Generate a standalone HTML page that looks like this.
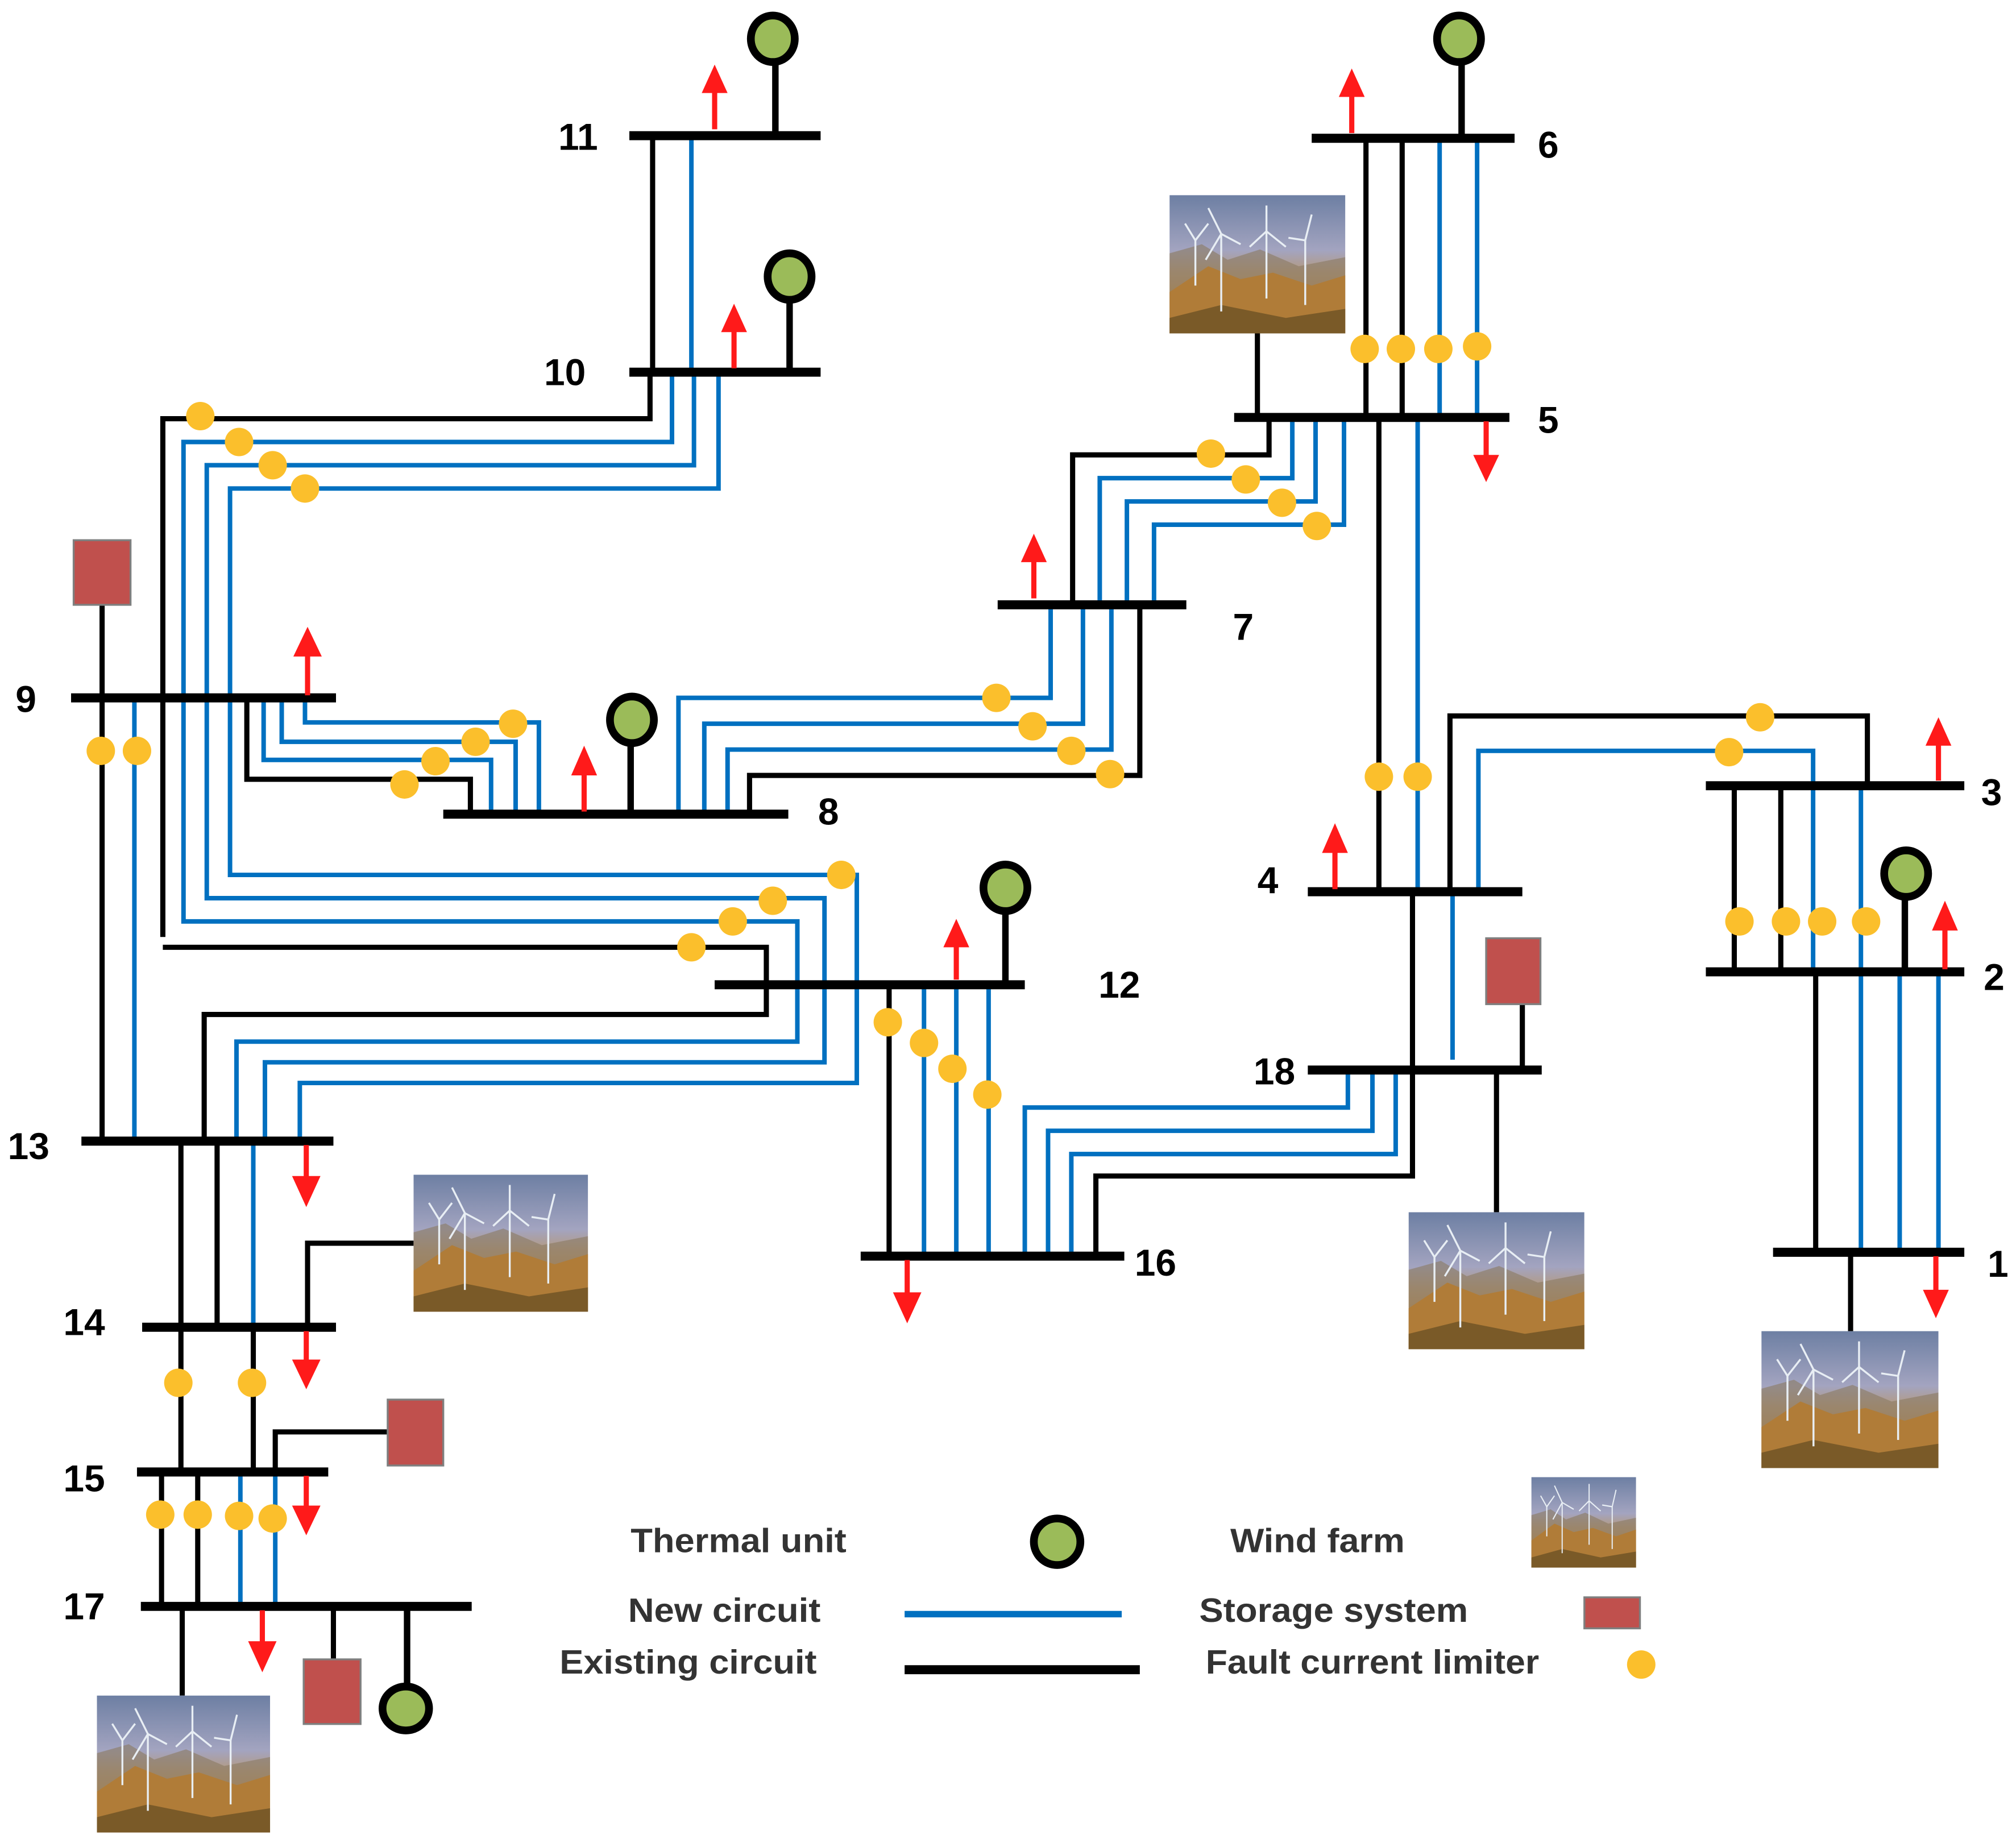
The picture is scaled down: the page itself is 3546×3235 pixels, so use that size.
<!DOCTYPE html>
<html><head><meta charset="utf-8">
<style>html,body{margin:0;padding:0;background:#fff}svg{display:block}</style>
</head><body>
<svg width="3546" height="3235" viewBox="0 0 1560 1423" preserveAspectRatio="none" xmlns="http://www.w3.org/2000/svg">
<defs>
<linearGradient id="sky" x1="0" y1="0" x2="0" y2="1">
<stop offset="0" stop-color="#6d7fa3"/><stop offset="0.4" stop-color="#a3a4c0"/><stop offset="0.55" stop-color="#b49a80"/><stop offset="0.8" stop-color="#c08a40"/><stop offset="1" stop-color="#9a6a30"/>
</linearGradient>
<symbol id="wf" viewBox="0 0 136 107" preserveAspectRatio="none">
<rect width="136" height="107" fill="url(#sky)"/>
<path d="M0 45 L25 38 L45 50 L70 42 L100 55 L136 48 L136 107 L0 107Z" fill="#8a7a60" opacity="0.6"/>
<path d="M0 75 L30 55 L55 65 L80 60 L110 70 L136 62 L136 107 L0 107Z" fill="#b07c38"/>
<path d="M0 95 L40 85 L90 95 L136 88 L136 107 L0 107Z" fill="#7a5a28"/>
<g stroke="#e8eef4" stroke-width="1.5">
<line x1="40" y1="30" x2="40" y2="90"/><line x1="40" y1="30" x2="30" y2="10"/><line x1="40" y1="30" x2="55" y2="38"/><line x1="40" y1="30" x2="28" y2="50"/>
<line x1="75" y1="28" x2="75" y2="80"/><line x1="75" y1="28" x2="75" y2="8"/><line x1="75" y1="28" x2="90" y2="40"/><line x1="75" y1="28" x2="62" y2="40"/>
<line x1="105" y1="35" x2="105" y2="85"/><line x1="105" y1="35" x2="110" y2="15"/><line x1="105" y1="35" x2="92" y2="33"/>
<line x1="20" y1="35" x2="20" y2="70"/><line x1="20" y1="35" x2="12" y2="22"/><line x1="20" y1="35" x2="30" y2="22"/>
</g>
</symbol>
</defs>

<!-- wind farms -->
<use href="#wf" x="905" y="151" width="136" height="107"/>
<use href="#wf" x="320" y="909" width="135" height="106"/>
<use href="#wf" x="1090" y="938" width="136" height="106"/>
<use href="#wf" x="1363" y="1030" width="137" height="106"/>
<use href="#wf" x="75" y="1312" width="134" height="106"/>
<use href="#wf" x="1185" y="1143" width="81" height="70"/>

<g fill="none" stroke-linejoin="miter" stroke-linecap="butt">
<!-- black existing circuits -->
<g stroke="#000" stroke-width="4">
<line x1="505" y1="105" x2="505" y2="288"/>
<polyline points="503,288 503,324 126,324 126,725"/>
<polyline points="126,733 593,733 593,785 158,785 158,883"/>
<line x1="79" y1="468" x2="79" y2="883"/>
<polyline points="191,540 191,603 364,603 364,630"/>
<polyline points="580,630 580,600 882,600 882,468"/>
<polyline points="830,468 830,352 982,352 982,323"/>
<line x1="1057" y1="107" x2="1057" y2="323"/>
<line x1="1085" y1="107" x2="1085" y2="323"/>
<line x1="973" y1="258" x2="973" y2="323"/>
<line x1="1067" y1="323" x2="1067" y2="690"/>
<polyline points="1122,690 1122,554 1445,554 1445,608"/>
<polyline points="1093,690 1093,910 848,910 848,972"/>
<line x1="1342" y1="608" x2="1342" y2="752"/>
<line x1="1378" y1="608" x2="1378" y2="752"/>
<line x1="1405" y1="752" x2="1405" y2="969"/>
<line x1="1432" y1="969" x2="1432" y2="1030"/>
<line x1="1178" y1="777" x2="1178" y2="828"/>
<line x1="1158" y1="828" x2="1158" y2="938"/>
<line x1="688" y1="762" x2="688" y2="972"/>
<line x1="140" y1="883" x2="140" y2="1139"/>
<line x1="168" y1="883" x2="168" y2="1027"/>
<line x1="196" y1="1027" x2="196" y2="1139"/>
<polyline points="238,1027 238,962 320,962"/>
<polyline points="213,1139 213,1108 300,1108"/>
<line x1="125" y1="1139" x2="125" y2="1243"/>
<line x1="153" y1="1139" x2="153" y2="1240"/>
<line x1="141" y1="1243" x2="141" y2="1312"/>
<line x1="258" y1="1243" x2="258" y2="1284"/>
<line x1="315" y1="1243" x2="315" y2="1305" stroke-width="5"/>
<line x1="600" y1="105" x2="600" y2="48" stroke-width="5"/>
<line x1="611" y1="288" x2="611" y2="232" stroke-width="5"/>
<line x1="488" y1="630" x2="488" y2="575" stroke-width="5"/>
<line x1="1131" y1="107" x2="1131" y2="48" stroke-width="5"/>
<line x1="778" y1="762" x2="778" y2="705" stroke-width="5"/>
<line x1="1474" y1="752" x2="1474" y2="695" stroke-width="5"/>
</g>
<!-- blue new circuits -->
<g stroke="#0070c0" stroke-width="3.5">
<line x1="535" y1="105" x2="535" y2="288"/>
<polyline points="520,288 520,342 142,342 142,713 617,713 617,806 183,806 183,883"/>
<polyline points="537,288 537,360 160,360 160,695 638,695 638,822 205,822 205,883"/>
<polyline points="556,288 556,378 178,378 178,677 663,677 663,838 232,838 232,883"/>
<line x1="104" y1="540" x2="104" y2="883"/>
<polyline points="204,540 204,588 380,588 380,630"/>
<polyline points="218,540 218,574 399,574 399,630"/>
<polyline points="236,540 236,559 417,559 417,630"/>
<polyline points="525,630 525,540 813,540 813,468"/>
<polyline points="545,630 545,560 838,560 838,468"/>
<polyline points="563,630 563,580 860,580 860,468"/>
<polyline points="851,468 851,370 1000,370 1000,323"/>
<polyline points="872,468 872,388 1018,388 1018,323"/>
<polyline points="893,468 893,406 1040,406 1040,323"/>
<line x1="1114" y1="107" x2="1114" y2="323"/>
<line x1="1143" y1="107" x2="1143" y2="323"/>
<line x1="1097" y1="323" x2="1097" y2="690"/>
<polyline points="1144,690 1144,581 1403,581 1403,752"/>
<line x1="1124" y1="690" x2="1124" y2="820"/>
<line x1="1440" y1="608" x2="1440" y2="969"/>
<line x1="1470" y1="752" x2="1470" y2="969"/>
<line x1="1500" y1="752" x2="1500" y2="969"/>
<polyline points="1043,828 1043,857 793,857 793,972"/>
<polyline points="1062,828 1062,875 811,875 811,972"/>
<polyline points="1080,828 1080,893 829,893 829,972"/>
<line x1="715" y1="762" x2="715" y2="972"/>
<line x1="740" y1="762" x2="740" y2="972"/>
<line x1="765" y1="762" x2="765" y2="972"/>
<line x1="196" y1="883" x2="196" y2="1027"/>
<line x1="186" y1="1139" x2="186" y2="1243"/>
<line x1="213" y1="1139" x2="213" y2="1243"/>
<line x1="700" y1="1249" x2="868" y2="1249" stroke-width="5"/>
</g>
<!-- buses -->
<g stroke="#000" stroke-width="7">
<line x1="487" y1="105" x2="635" y2="105"/>
<line x1="487" y1="288" x2="635" y2="288"/>
<line x1="1015" y1="107" x2="1172" y2="107"/>
<line x1="955" y1="323" x2="1168" y2="323"/>
<line x1="772" y1="468" x2="918" y2="468"/>
<line x1="55" y1="540" x2="260" y2="540"/>
<line x1="343" y1="630" x2="610" y2="630"/>
<line x1="553" y1="762" x2="793" y2="762"/>
<line x1="63" y1="883" x2="258" y2="883"/>
<line x1="110" y1="1027" x2="260" y2="1027"/>
<line x1="106" y1="1139" x2="254" y2="1139"/>
<line x1="109" y1="1243" x2="365" y2="1243"/>
<line x1="666" y1="972" x2="870" y2="972"/>
<line x1="1012" y1="690" x2="1178" y2="690"/>
<line x1="1012" y1="828" x2="1193" y2="828"/>
<line x1="1320" y1="608" x2="1520" y2="608"/>
<line x1="1320" y1="752" x2="1520" y2="752"/>
<line x1="1372" y1="969" x2="1520" y2="969"/>
<line x1="700" y1="1292" x2="882" y2="1292"/>
</g>
</g>

<!-- thermal units -->
<g fill="#9bbb59" stroke="#000" stroke-width="6">
<ellipse cx="598" cy="30" rx="17" ry="18"/>
<ellipse cx="611" cy="214" rx="17" ry="18"/>
<ellipse cx="489" cy="557" rx="17" ry="18"/>
<ellipse cx="1129" cy="30" rx="17" ry="18"/>
<ellipse cx="778" cy="687" rx="17" ry="18"/>
<ellipse cx="1475" cy="676" rx="17" ry="18"/>
<ellipse cx="314" cy="1322" rx="18" ry="17"/>
<ellipse cx="818" cy="1193" rx="18" ry="18"/>
</g>

<!-- storage -->
<g fill="#c0504d" stroke="#7f7f7f" stroke-width="1.5">
<rect x="57" y="418" width="44" height="50"/>
<rect x="1150" y="726" width="42" height="51"/>
<rect x="300" y="1083" width="43" height="51"/>
<rect x="235" y="1284" width="44" height="50"/>
<rect x="1226" y="1236" width="43" height="24"/>
</g>

<!-- arrows -->
<g fill="#ff1a1a">
<path d="M551 100 L551 72 L543 72 L553 50 L563 72 L555 72 L555 100Z"/>
<path d="M566 285 L566 257 L558 257 L568 235 L578 257 L570 257 L570 285Z"/>
<path d="M1044 103 L1044 75 L1036 75 L1046 53 L1056 75 L1048 75 L1048 103Z"/>
<path d="M798 463 L798 435 L790 435 L800 413 L810 435 L802 435 L802 463Z"/>
<path d="M236 538 L236 508 L227 508 L238 485 L249 508 L240 508 L240 538Z"/>
<path d="M450 628 L450 600 L442 600 L452 577 L462 600 L454 600 L454 628Z"/>
<path d="M738 758 L738 733 L730 733 L740 711 L750 733 L742 733 L742 758Z"/>
<path d="M1031 688 L1031 660 L1023 660 L1033 637 L1043 660 L1035 660 L1035 688Z"/>
<path d="M1498 604 L1498 577 L1490 577 L1500 555 L1510 577 L1502 577 L1502 604Z"/>
<path d="M1503 750 L1503 720 L1495 720 L1505 697 L1515 720 L1507 720 L1507 750Z"/>
<path d="M1148 326 L1148 352 L1140 352 L1150 373 L1160 352 L1152 352 L1152 326Z"/>
<path d="M700 975 L700 1000 L691 1000 L702 1024 L713 1000 L704 1000 L704 975Z"/>
<path d="M1496 972 L1496 998 L1488 998 L1498 1020 L1508 998 L1500 998 L1500 972Z"/>
<path d="M235 886 L235 910 L226 910 L237 934 L248 910 L239 910 L239 886Z"/>
<path d="M235 1030 L235 1052 L226 1052 L237 1075 L248 1052 L239 1052 L239 1030Z"/>
<path d="M235 1142 L235 1165 L226 1165 L237 1188 L248 1165 L239 1165 L239 1142Z"/>
<path d="M201 1246 L201 1270 L192 1270 L203 1294 L214 1270 L205 1270 L205 1246Z"/>
</g>

<!-- FCL -->
<g fill="#fbbf2c">
<circle cx="155" cy="322" r="11"/><circle cx="185" cy="342" r="11"/><circle cx="211" cy="360" r="11"/><circle cx="236" cy="378" r="11"/>
<circle cx="651" cy="677" r="11"/><circle cx="598" cy="697" r="11"/><circle cx="567" cy="713" r="11"/><circle cx="535" cy="733" r="11"/>
<circle cx="78" cy="581" r="11"/><circle cx="106" cy="581" r="11"/>
<circle cx="313" cy="607" r="11"/><circle cx="337" cy="589" r="11"/><circle cx="368" cy="574" r="11"/><circle cx="397" cy="560" r="11"/>
<circle cx="771" cy="540" r="11"/><circle cx="799" cy="562" r="11"/><circle cx="829" cy="581" r="11"/><circle cx="859" cy="599" r="11"/>
<circle cx="937" cy="351" r="11"/><circle cx="964" cy="371" r="11"/><circle cx="992" cy="389" r="11"/><circle cx="1019" cy="407" r="11"/>
<circle cx="1056" cy="270" r="11"/><circle cx="1084" cy="270" r="11"/><circle cx="1113" cy="270" r="11"/><circle cx="1143" cy="268" r="11"/>
<circle cx="1067" cy="601" r="11"/><circle cx="1097" cy="601" r="11"/>
<circle cx="1362" cy="555" r="11"/><circle cx="1338" cy="582" r="11"/>
<circle cx="1346" cy="713" r="11"/><circle cx="1382" cy="713" r="11"/><circle cx="1410" cy="713" r="11"/><circle cx="1444" cy="713" r="11"/>
<circle cx="687" cy="791" r="11"/><circle cx="715" cy="807" r="11"/><circle cx="737" cy="827" r="11"/><circle cx="764" cy="847" r="11"/>
<circle cx="138" cy="1070" r="11"/><circle cx="195" cy="1070" r="11"/>
<circle cx="124" cy="1172" r="11"/><circle cx="153" cy="1172" r="11"/><circle cx="185" cy="1173" r="11"/><circle cx="211" cy="1175" r="11"/>
<circle cx="1270" cy="1288" r="11"/>
</g>

<!-- bus labels -->
<g font-family="'Liberation Sans', sans-serif" font-weight="bold" font-size="29" fill="#000">
<text x="432" y="116">11</text>
<text x="421" y="298">10</text>
<text x="1190" y="122">6</text>
<text x="1190" y="335">5</text>
<text x="954" y="495">7</text>
<text x="12" y="551">9</text>
<text x="633" y="638">8</text>
<text x="850" y="772">12</text>
<text x="6" y="897">13</text>
<text x="49" y="1033">14</text>
<text x="49" y="1154">15</text>
<text x="49" y="1253">17</text>
<text x="878" y="987">16</text>
<text x="973" y="691">4</text>
<text x="970" y="839">18</text>
<text x="1533" y="623">3</text>
<text x="1535" y="766">2</text>
<text x="1538" y="988">1</text>
</g>
<!-- legend -->
<g font-family="'Liberation Sans', sans-serif" font-weight="bold" font-size="26" fill="#333">
<text x="488" y="1201" textLength="167" lengthAdjust="spacingAndGlyphs">Thermal unit</text>
<text x="952" y="1201" textLength="135" lengthAdjust="spacingAndGlyphs">Wind farm</text>
<text x="486" y="1255" textLength="149" lengthAdjust="spacingAndGlyphs">New circuit</text>
<text x="928" y="1255" textLength="208" lengthAdjust="spacingAndGlyphs">Storage system</text>
<text x="433" y="1295" textLength="199" lengthAdjust="spacingAndGlyphs">Existing circuit</text>
<text x="933" y="1295" textLength="258" lengthAdjust="spacingAndGlyphs">Fault current limiter</text>
</g>
</svg>
</body></html>
